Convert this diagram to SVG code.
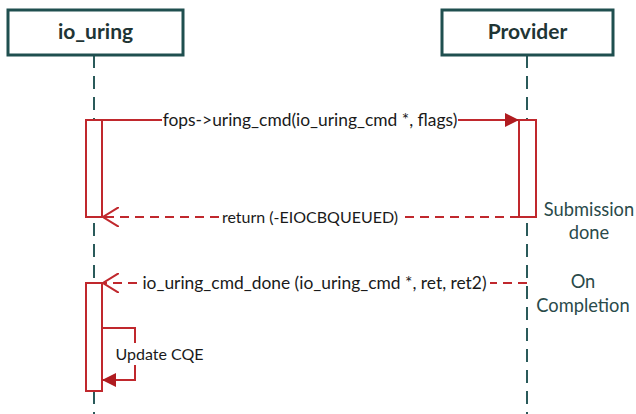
<svg xmlns="http://www.w3.org/2000/svg" width="636" height="414" viewBox="0 0 636 414">
<style>
.node{fill:#fff;stroke:#1f4f4f;stroke-width:3}
.nlabel{font-family:Lato,"Liberation Sans",sans-serif;font-weight:bold;font-size:21px;fill:#1f3535;text-anchor:middle}
.life{stroke:#2a5a5a;stroke-width:2;stroke-dasharray:13 8;fill:none}
.act{fill:#fff;stroke:#c0282d;stroke-width:2}
.msg{stroke:#c0282d;stroke-width:2;fill:none}
.dash{stroke-dasharray:9 6}
.mlabel{font-family:Lato,"Liberation Sans",sans-serif;font-size:17.4px;fill:#1a1a1a;text-anchor:middle}
.small{font-size:16px}
.note{font-family:Lato,"Liberation Sans",sans-serif;font-size:18.3px;fill:#2a4a4a;text-anchor:middle}
.bg{fill:#fff}
</style>
<defs>
<marker id="filled" viewBox="0 0 14 14" refX="14" refY="7" markerWidth="14" markerHeight="14" markerUnits="userSpaceOnUse" orient="auto">
<path d="M0,0 L14,7 L0,14 Z" fill="#b01c20"/>
</marker>
<marker id="open" viewBox="0 0 16 20" refX="16" refY="10" markerWidth="16" markerHeight="20" markerUnits="userSpaceOnUse" orient="auto">
<path d="M0,0 L16,10 L0,20" fill="none" stroke="#c0282d" stroke-width="2"/>
</marker>
</defs>
<rect width="636" height="414" fill="#fff"/>
<g id="lifelines">
<line class="life" x1="94" y1="55" x2="94" y2="414"/>
<line class="life" x1="527" y1="55" x2="527" y2="414"/>
</g>
<g id="io_uring">
<rect class="node" x="8" y="10" width="175" height="45"/>
<text class="nlabel" x="95.5" y="39">io_uring</text>
</g>
<g id="provider">
<rect class="node" x="442" y="10" width="171" height="45"/>
<text class="nlabel" x="527.5" y="39">Provider</text>
</g>
<g id="activations">
<rect class="act" x="86" y="120" width="16" height="97"/>
<rect class="act" x="519" y="120" width="17" height="97"/>
<rect class="act" x="86" y="283" width="16" height="108"/>
</g>
<g id="connectors">
<line class="msg" x1="102" y1="120" x2="519" y2="120" marker-end="url(#filled)"/>
<line class="msg dash" x1="519" y1="217" x2="103" y2="217" marker-end="url(#open)"/>
<line class="msg dash" x1="527" y1="283" x2="103" y2="283" marker-end="url(#open)"/>
<path class="msg" d="M102,328 H135 V380 H102" marker-end="url(#filled)"/>
</g>
<g id="labels">
<rect class="bg" x="162" y="109" width="296" height="22"/>
<text class="mlabel" x="310" y="126">fops-&gt;uring_cmd(io_uring_cmd *, flags)</text>
<rect class="bg" x="219" y="206" width="182" height="22"/>
<text class="mlabel small" x="310" y="223">return (-EIOCBQUEUED)</text>
<rect class="bg" x="139" y="272" width="351" height="22"/>
<text class="mlabel" x="314.5" y="289">io_uring_cmd_done (io_uring_cmd *, ret, ret2)</text>
<rect class="bg" x="112" y="343" width="96" height="22"/>
<text class="mlabel small" x="159.5" y="360">Update CQE</text>
<text class="note" x="589" y="216">Submission</text>
<text class="note" x="589" y="239">done</text>
<text class="note" x="583" y="288">On</text>
<text class="note" x="583" y="312">Completion</text>
</g>
</svg>
